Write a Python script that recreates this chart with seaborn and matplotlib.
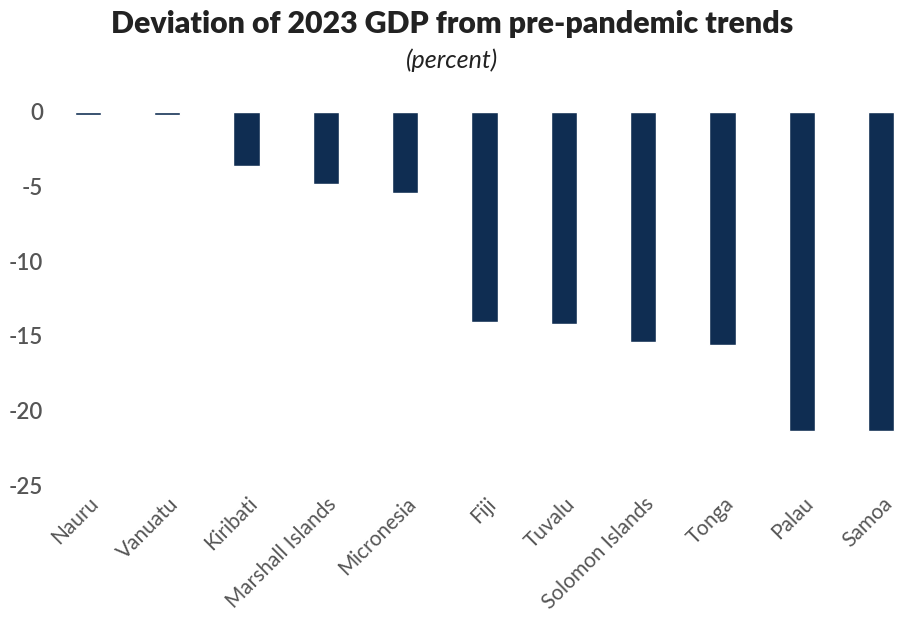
"""
Deviation of 2023 GDP from pre-pandemic trends, Pacific islands
"""
import pandas as pd
import matplotlib
matplotlib.use("Agg")
import matplotlib.pyplot as plt
import matplotlib.transforms as mtransforms
import seaborn as sns

# Data
countries = ["Nauru", "Vanuatu", "Kiribati", "Marshall Islands", "Micronesia",
             "Fiji", "Tuvalu", "Solomon Islands", "Tonga", "Palau", "Samoa"]
deviation = [-0.2, -0.2, -3.6, -4.8, -5.4, -14.1, -14.2, -15.4, -15.6, -21.4, -21.4]
y_ticks = [0, -5, -10, -15, -20, -25]

df = pd.DataFrame({"country": countries, "deviation": deviation})

sns.set_style("white")
plt.rcParams["font.family"] = ["Lato", "DejaVu Sans"]

fig = plt.figure(figsize=(9.05, 6.22), dpi=100)
ax = fig.add_axes([60 / 905, 1 - 485 / 622, 845 / 905, 385 / 622])

sns.barplot(data=df, x="country", y="deviation", color="#0f2d52",
            width=0.33, saturation=1, ax=ax)

ax.set_xlim(-0.35, 10.3)
ax.set_ylim(-25, 0.8)
ax.set_yticks(y_ticks)
ax.set_yticklabels([str(t) for t in y_ticks], fontsize=16, fontweight="semibold",
                   color="#555555")
ax.tick_params(axis="y", length=0, pad=12)
ax.tick_params(axis="x", length=0, pad=2)
# nudge the rotated labels so they end just right of each bar
shift = mtransforms.ScaledTranslation(0.15, -0.06, fig.dpi_scale_trans)
for lbl in ax.get_xticklabels():
    lbl.set_rotation(45)
    lbl.set_ha("right")
    lbl.set_fontsize(15)
    lbl.set_color("#555555")
    lbl.set_transform(lbl.get_transform() + shift)
ax.set_xlabel("")
ax.set_ylabel("")
sns.despine(ax=ax, left=True, bottom=True)

fig.text(0.5, 1 - 24 / 622, "Deviation of 2023 GDP from pre-pandemic trends",
         ha="center", va="center", fontsize=21.8, fontweight="heavy", color="#222222")
fig.text(0.5, 1 - 60 / 622, "(percent)", ha="center", va="center",
         fontsize=18, style="italic", color="#222222")

fig.savefig("out.png", dpi=100)
